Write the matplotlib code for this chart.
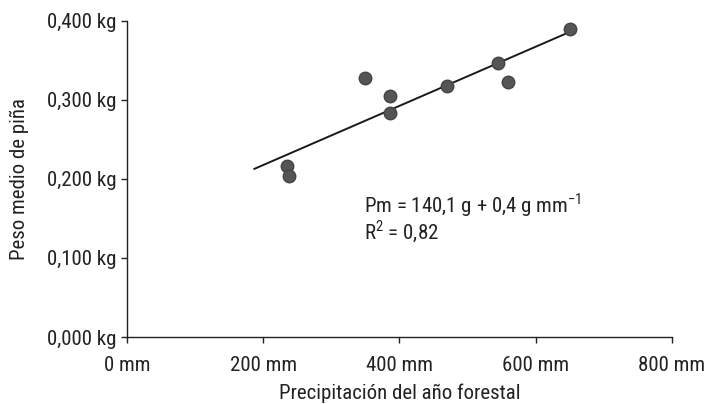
import matplotlib
matplotlib.use("Agg")
import matplotlib.pyplot as plt
from matplotlib.ticker import FuncFormatter

plt.rcParams["font.family"] = ["Roboto Condensed", "Liberation Sans",
                               "DejaVu Sans"]
plt.rcParams["mathtext.fontset"] = "custom"
plt.rcParams["mathtext.rm"] = "Roboto Condensed"

# Observed points: rainfall of the forest year [mm] vs mean cone weight [kg]
precip_mm = [235, 238, 349, 386, 386, 470, 545, 560, 650]
peso_kg = [0.2165, 0.204, 0.327, 0.305, 0.2835, 0.318, 0.3465, 0.322, 0.390]

# Fitted line as drawn in the figure
fit_x = [187, 650]
fit_intercept = 0.1427
fit_slope = 0.000374

eq_text = "Pm = 140,1 g + 0,4 g mm$^{\u22121}$\nR$^{2}$ = 0,82"

fig = plt.figure(figsize=(7.15, 4.04), dpi=100)
ax = fig.add_axes([0.1776, 0.1658, 0.7622, 0.783])

fit_y = [fit_intercept + fit_slope * x for x in fit_x]
ax.plot(fit_x, fit_y, color="#1a1a1a", lw=1.4, zorder=2)
ax.plot(precip_mm, peso_kg, "o", color="#555555", mec="#444444",
        ms=9, zorder=3)

ax.set_xlim(0, 800)
ax.set_ylim(0, 0.4)
ax.set_xticks([0, 200, 400, 600, 800])
ax.set_yticks([0, 0.1, 0.2, 0.3, 0.4])
ax.xaxis.set_major_formatter(FuncFormatter(lambda v, p: f"{v:.0f} mm"))
ax.yaxis.set_major_formatter(
    FuncFormatter(lambda v, p: f"{v:.3f} kg".replace(".", ",")))

for s in ("top", "right"):
    ax.spines[s].set_visible(False)
for s in ("left", "bottom"):
    ax.spines[s].set_color("#222222")
    ax.spines[s].set_linewidth(1.0)
ax.tick_params(direction="out", length=4.5, width=1.0, colors="#222222",
               labelsize=15, labelcolor="#222222")
ax.tick_params(axis="y", pad=3)
ax.tick_params(axis="x", pad=9)

ax.text(348, 0.15, eq_text, fontsize=15, color="#222222",
        ha="left", va="center", linespacing=1.0)

ax.set_xlabel("Precipitación del año forestal", fontsize=15,
              color="#222222", labelpad=6)
ax.set_ylabel("Peso medio de piña", fontsize=15, color="#222222",
              labelpad=13)

fig.savefig("out.png", dpi=100)
